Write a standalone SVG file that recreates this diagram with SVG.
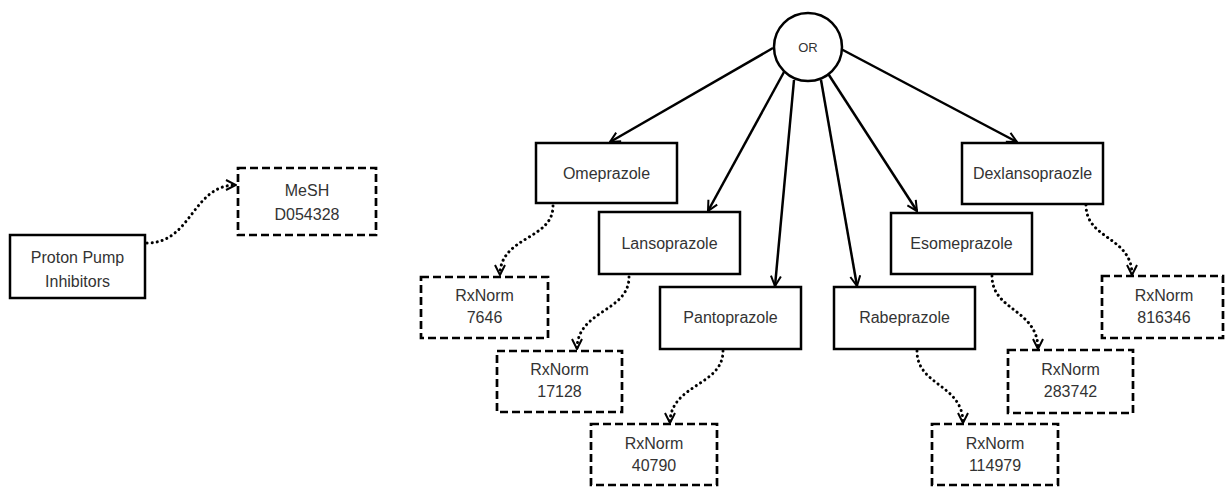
<svg xmlns="http://www.w3.org/2000/svg" width="1225" height="487" viewBox="0 0 1225 487">
<style>
.node{fill:#fff;stroke:#000;stroke-width:2.5}
.ref{fill:#fff;stroke:#000;stroke-width:2.7;stroke-dasharray:8 4}
.t{font-family:"Liberation Sans",Arial,sans-serif;font-size:16px;fill:#333;text-anchor:middle}
.edge{fill:none;stroke:#000;stroke-width:2.5;marker-end:url(#ah)}
.dot{fill:none;stroke:#000;stroke-width:3;stroke-dasharray:0.1 5;stroke-linecap:round;marker-end:url(#ah)}
</style>
<defs>
<marker id="ah" viewBox="0 0 12 12" refX="11" refY="6" markerWidth="12" markerHeight="12" markerUnits="userSpaceOnUse" orient="auto">
<path d="M1,1 L11,6 L1,11" fill="none" stroke="#000" stroke-width="2"/>
</marker>
</defs>
<rect width="1225" height="487" fill="#fff"/>
<g id="connectors">
<path class="edge" d="M773,48 L610,142"/>
<path class="edge" d="M784,72 L708,211"/>
<path class="edge" d="M794,80 L775,286"/>
<path class="edge" d="M821,80 L857,286"/>
<path class="edge" d="M827,72 L917,211"/>
<path class="edge" d="M841,49 L1017,142"/>
<path class="dot" d="M147,243 C192,243 192,185 236,185"/>
<path class="dot" d="M553,206 C553,240 500,236 500,275"/>
<path class="dot" d="M629,277 C629,312 577,310 577,349"/>
<path class="dot" d="M723,351 C723,386 670,384 670,423"/>
<path class="dot" d="M917,351 C917,386 963,384 963,423"/>
<path class="dot" d="M992,276 C992,311 1038,309 1038,349"/>
<path class="dot" d="M1086,205 C1086,240 1132,236 1132,275"/>
</g>
<g id="or">
<circle class="node" cx="808" cy="47" r="34"/>
<text class="t" x="808" y="52" style="font-size:13px">OR</text>
</g>
<g id="ppi">
<rect class="node" x="10" y="235" width="135" height="63"/>
<text class="t" x="77.5" y="263">Proton Pump</text>
<text class="t" x="77.5" y="287">Inhibitors</text>
</g>
<g id="mesh">
<rect class="ref" x="238" y="168" width="138" height="67"/>
<text class="t" x="307" y="196">MeSH</text>
<text class="t" x="307" y="220">D054328</text>
</g>
<g id="omeprazole">
<rect class="node" x="536" y="143" width="141" height="60"/>
<text class="t" x="606.5" y="179">Omeprazole</text>
</g>
<g id="lansoprazole">
<rect class="node" x="599" y="212" width="141" height="62"/>
<text class="t" x="669.5" y="249">Lansoprazole</text>
</g>
<g id="pantoprazole">
<rect class="node" x="660" y="287" width="141" height="62"/>
<text class="t" x="730.5" y="323">Pantoprazole</text>
</g>
<g id="rabeprazole">
<rect class="node" x="834" y="287" width="141" height="62"/>
<text class="t" x="904.5" y="323">Rabeprazole</text>
</g>
<g id="esomeprazole">
<rect class="node" x="891" y="213" width="141" height="61"/>
<text class="t" x="961.5" y="249">Esomeprazole</text>
</g>
<g id="dexlansopraozle">
<rect class="node" x="962" y="143" width="141" height="61"/>
<text class="t" x="1032.5" y="179">Dexlansopraozle</text>
</g>
<g id="rx7646">
<rect class="ref" x="421" y="277" width="127" height="61"/>
<text class="t" x="484.5" y="301">RxNorm</text>
<text class="t" x="484.5" y="323">7646</text>
</g>
<g id="rx17128">
<rect class="ref" x="497" y="351" width="125" height="61"/>
<text class="t" x="559.5" y="375">RxNorm</text>
<text class="t" x="559.5" y="397">17128</text>
</g>
<g id="rx40790">
<rect class="ref" x="591" y="424" width="126" height="61"/>
<text class="t" x="654" y="449">RxNorm</text>
<text class="t" x="654" y="471">40790</text>
</g>
<g id="rx114979">
<rect class="ref" x="932" y="424" width="126" height="61"/>
<text class="t" x="995" y="449">RxNorm</text>
<text class="t" x="995" y="471">114979</text>
</g>
<g id="rx283742">
<rect class="ref" x="1008" y="350" width="125" height="63"/>
<text class="t" x="1070.5" y="375">RxNorm</text>
<text class="t" x="1070.5" y="397">283742</text>
</g>
<g id="rx816346">
<rect class="ref" x="1102" y="276" width="121" height="62"/>
<text class="t" x="1164" y="301">RxNorm</text>
<text class="t" x="1164" y="323">816346</text>
</g>
</svg>
